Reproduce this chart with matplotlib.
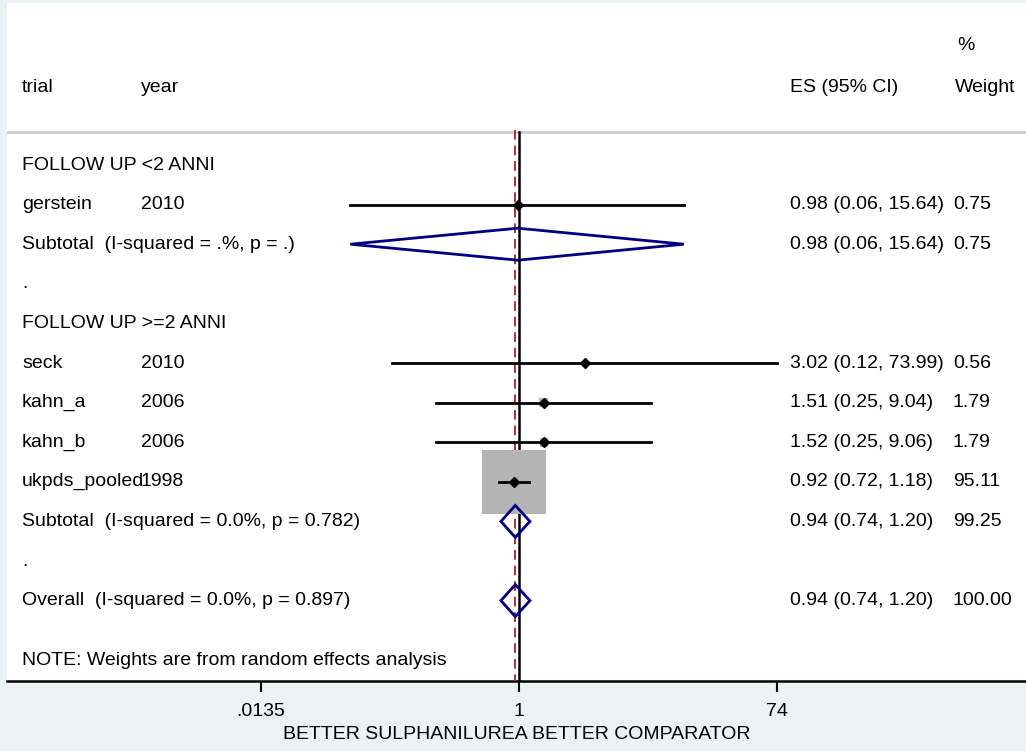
import matplotlib
matplotlib.use("Agg")
import matplotlib.pyplot as plt
import numpy as np
from matplotlib.patches import Polygon
from matplotlib.transforms import blended_transform_factory

plt.rcParams["font.family"] = ["Liberation Sans", "DejaVu Sans"]

# study rows
TRIALS = ["gerstein", "seck", "kahn_a", "kahn_b", "ukpds_pooled"]
YEARS = ["2010", "2010", "2006", "2006", "1998"]
ES = [0.98, 3.02, 1.51, 1.52, 0.92]
LO = [0.06, 0.12, 0.25, 0.25, 0.72]
HI = [15.64, 73.99, 9.04, 9.06, 1.18]
WEIGHT = [0.75, 0.56, 1.79, 1.79, 95.11]

# pooled rows
POOL_LABELS = ["Subtotal  (I-squared = .%, p = .)",
               "Subtotal  (I-squared = 0.0%, p = 0.782)",
               "Overall  (I-squared = 0.0%, p = 0.897)"]
POOL_ES = [0.98, 0.94, 0.94]
POOL_LO = [0.06, 0.74, 0.74]
POOL_HI = [15.64, 1.20, 1.20]
POOL_WEIGHT = ["0.75", "99.25", "100.00"]

GROUPS = ["FOLLOW UP <2 ANNI", "FOLLOW UP >=2 ANNI"]
TICKS = [0.0135, 1, 74]
TICK_LABELS = [".0135", "1", "74"]

# layout: row order from top to bottom
STUDY_ROWS = [1, 5, 6, 7, 8]
POOL_ROWS = [2, 9, 11]
GROUP_ROWS = [0, 4]
DOT_ROWS = [3, 10]

BG = "#eaf2f3"
NAVY = "#000080"
W, H = 1026, 751
Y0, STEP = 165, 39.6
FS = 14


def row_y(r):
    return Y0 + r * STEP


def fmt_ci(e, lo, hi):
    return f"{e:.2f} ({lo:.2f}, {hi:.2f})"


fig = plt.figure(figsize=(W / 100, H / 100), dpi=100, facecolor=BG)
left, right, top, bottom = 7, 1026, 3, 681
ax = fig.add_axes([left / W, 1 - bottom / H, (right - left) / W, (bottom - top) / H])
ax.set_facecolor("white")
ax.set_xscale("log")
px_per_ln = 59.94
ax.set_xlim(np.exp(-(519 - left) / px_per_ln), np.exp((right - 519) / px_per_ln))
ax.set_ylim(bottom, top)
for s in ["top", "left", "right"]:
    ax.spines[s].set_visible(False)
ax.spines["bottom"].set_linewidth(1.8)
ax.set_yticks([])
ax.set_xticks(TICKS)
ax.set_xticklabels(TICK_LABELS, fontsize=FS)
ax.minorticks_off()
ax.tick_params(axis="x", length=8, width=1.5, pad=8)
ax.set_xlabel("BETTER SULPHANILUREA BETTER COMPARATOR", fontsize=FS, labelpad=4)

tx = blended_transform_factory(ax.transAxes, ax.transData)


def col(px):
    return (px - left) / (right - left)


# header
ax.text(col(22), 87, "trial", transform=tx, fontsize=FS, va="center")
ax.text(col(141), 87, "year", transform=tx, fontsize=FS, va="center")
ax.text(col(790), 87, "ES (95% CI)", transform=tx, fontsize=FS, va="center")
ax.text(col(955), 87, "Weight", transform=tx, fontsize=FS, va="center")
ax.text(col(957), 45, "%", transform=tx, fontsize=FS, va="center")
ax.axhline(132, color="#c8c8c8", lw=1.8)

# reference lines
ax.plot([1, 1], [132, bottom], color="black", lw=1.8, zorder=2)
ax.plot([POOL_ES[-1]] * 2, [130, bottom], color="#a8323e", lw=1.4,
        dashes=(5, 3), zorder=3)

for r, g in zip(GROUP_ROWS, GROUPS):
    ax.text(col(22), row_y(r), g, transform=tx, fontsize=FS, va="center")
for r in DOT_ROWS:
    ax.text(col(22), row_y(r), ".", transform=tx, fontsize=FS, va="center")

# studies
max_w = max(WEIGHT)
for r, name, yr, e, lo, hi, w in zip(STUDY_ROWS, TRIALS, YEARS, ES, LO, HI, WEIGHT):
    y = row_y(r)
    side_px = 64 * np.sqrt(w / max_w)
    ax.scatter([e], [y], marker="s", s=(side_px * 0.72) ** 2, color="#b4b4b4",
               edgecolors="none", zorder=4)
    ax.plot([lo, hi], [y, y], color="black", lw=2.0, zorder=5)
    ax.plot([e], [y], marker="D", ms=5.5, color="black", zorder=6)
    ax.text(col(22), y, name, transform=tx, fontsize=FS, va="center")
    ax.text(col(141), y, yr, transform=tx, fontsize=FS, va="center")
    ax.text(col(790), y, fmt_ci(e, lo, hi), transform=tx, fontsize=FS, va="center")
    ax.text(col(953), y, f"{w:.2f}", transform=tx, fontsize=FS, va="center")

# pooled diamonds
for r, lab, e, lo, hi, w in zip(POOL_ROWS, POOL_LABELS, POOL_ES, POOL_LO, POOL_HI, POOL_WEIGHT):
    y = row_y(r)
    dia = Polygon([(lo, y), (e, y - 16), (hi, y), (e, y + 16)], closed=True,
                  facecolor="none", edgecolor=NAVY, lw=2.0, zorder=6)
    ax.add_patch(dia)
    ax.text(col(22), y, lab, transform=tx, fontsize=FS, va="center")
    ax.text(col(790), y, fmt_ci(e, lo, hi), transform=tx, fontsize=FS, va="center")
    ax.text(col(953), y, w, transform=tx, fontsize=FS, va="center")

ax.text(col(22), row_y(12.5), "NOTE: Weights are from random effects analysis",
        transform=tx, fontsize=FS, va="center")

fig.savefig("out.png", dpi=100, facecolor=BG)
